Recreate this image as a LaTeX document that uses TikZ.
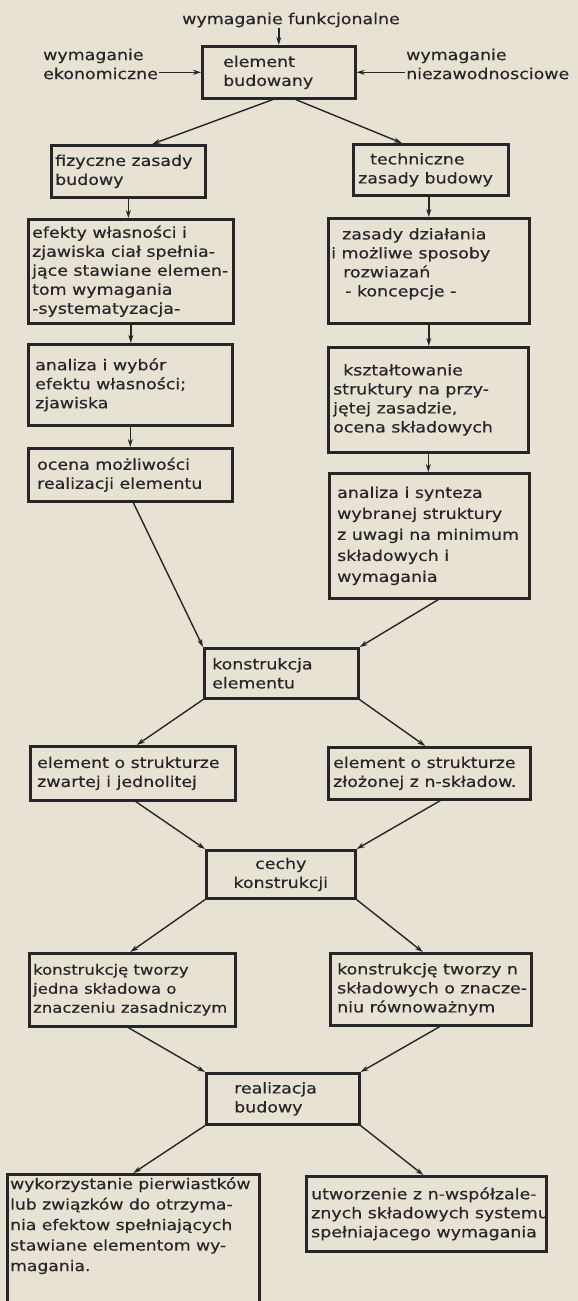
\documentclass[tikz,border=0pt]{standalone}
\usepackage{fontspec}
\setmainfont{DejaVu Sans}[FakeStretch=1.16,FakeBold=0.4]
\usetikzlibrary{arrows.meta,calc}
\definecolor{paper}{RGB}{231,226,212}
\definecolor{ink}{RGB}{38,38,40}
\tikzset{
  bx/.style={draw=ink, line width=2.6pt, anchor=north west, inner sep=0pt},
  tx/.style={anchor=west, align=left, inner sep=0pt, text=ink, font=\fontsize{15}{19}\selectfont},
  lbl/.style={align=left, inner sep=1pt, text=ink, font=\fontsize{15}{19}\selectfont},
  arr/.style={draw=ink, line width=1.4pt, -{Stealth[length=8pt,width=5pt]}},
}
\begin{document}
\begin{tikzpicture}[x=1pt,y=-1pt]
\fill[paper] (0,0) rectangle (578,1301);
\useasboundingbox (0,0) rectangle (578,1301);

% top inputs
\node[lbl] (funk) at (291,20) {wymaganie funkcjonalne};
\node[lbl, anchor=west] (ekon) at (42,64) {wymaganie\\ekonomiczne};
\node[lbl, anchor=west] (niez) at (405,64) {wymaganie\\niezawodnosciowe};

% boxes
\node[bx, minimum width=153pt, minimum height=52pt] (elem) at (201,45) {};
\node[bx, minimum width=154pt, minimum height=52pt] (fiz) at (50,144) {};
\node[bx, minimum width=205pt, minimum height=104pt] (efekty) at (27,218) {};
\node[bx, minimum width=204pt, minimum height=81pt] (analiza) at (27,343) {};
\node[bx, minimum width=204pt, minimum height=53pt] (ocena) at (27,447) {};
\node[bx, minimum width=155pt, minimum height=51pt] (tech) at (352,143) {};
\node[bx, minimum width=201pt, minimum height=105pt] (zasady) at (327,217) {};
\node[bx, minimum width=200pt, minimum height=105pt] (kszt) at (327,346) {};
\node[bx, minimum width=200pt, minimum height=125pt] (synt) at (328,472) {};
\node[bx, minimum width=154pt, minimum height=50pt] (konstr) at (203,647) {};
\node[bx, minimum width=205pt, minimum height=54pt] (zwarta) at (29,745) {};
\node[bx, minimum width=202pt, minimum height=52pt] (zlozona) at (327,746) {};
\node[bx, minimum width=149pt, minimum height=48pt] (cechy) at (205,849) {};
\node[bx, minimum width=206pt, minimum height=73pt] (jedna) at (28,952) {};
\node[bx, minimum width=201pt, minimum height=72pt] (nskl) at (329,952) {};
\node[bx, minimum width=153pt, minimum height=51pt] (real) at (205,1072) {};
\node[bx, minimum width=252pt, minimum height=145pt] (wykorz) at (6,1173) {};
\node[bx, minimum width=240pt, minimum height=75pt] (utw) at (305,1175) {};

% texts
\node[tx] (elem-t) at ([xshift=22pt]elem.west) {element\\budowany};
\node[tx] (fiz-t) at ([xshift=5pt]fiz.west) {fizyczne zasady\\budowy};
\node[tx] (efekty-t) at ([xshift=5pt]efekty.west)
  {efekty własności i\\zjawiska ciał spełnia-\\jące stawiane elemen-\\tom wymagania\\-systematyzacja-};
\node[tx] (analiza-t) at ([xshift=8pt]analiza.west) {analiza i wybór\\efektu własności;\\zjawiska};
\node[tx] (ocena-t) at ([xshift=10pt]ocena.west) {ocena możliwości\\realizacji elementu};
\node[tx] (tech-t) at ([xshift=6pt]tech.west) {\hspace*{12pt}techniczne\\zasady budowy};
\node[tx] (zasady-t) at ([xshift=4pt,yshift=7pt]zasady.west)
  {\hspace*{11pt}zasady działania\\i możliwe sposoby\\\hspace*{12pt}rozwiazań\\\hspace*{14pt}- koncepcje -};
\node[tx] (kszt-t) at ([xshift=6pt]kszt.west)
  {\hspace*{10pt}kształtowanie\\struktury na przy-\\jętej zasadzie,\\ocena składowych};
\node[tx, font=\fontsize{15}{21}\selectfont] (synt-t) at ([xshift=9pt]synt.west)
  {analiza i synteza\\wybranej struktury\\z uwagi na minimum\\składowych i\\wymagania};
\node[tx] (konstr-t) at ([xshift=9pt]konstr.west) {konstrukcja\\elementu};
\node[tx] (zwarta-t) at ([xshift=8pt]zwarta.west) {element o strukturze\\zwartej i jednolitej};
\node[tx] (zlozona-t) at ([xshift=6pt]zlozona.west) {element o strukturze\\złożonej z n-składow.};
\node[tx, anchor=center, align=center] (cechy-t) at (cechy.center) {cechy\\konstrukcji};
\node[tx, font=\fontsize{14.2}{19}\selectfont] (jedna-t) at ([xshift=5pt]jedna.west)
  {konstrukcję tworzy\\jedna składowa o\\znaczeniu zasadniczym};
\node[tx] (nskl-t) at ([xshift=8pt]nskl.west)
  {konstrukcję tworzy n\\składowych o znacze-\\niu równoważnym};
\node[tx] (real-t) at ([xshift=29pt]real.west) {realizacja\\budowy};
\node[tx, anchor=north west, font=\fontsize{14.8}{20.5}\selectfont] (wykorz-t) at ([xshift=4pt,yshift=-4pt]wykorz.north west)
  {wykorzystanie pierwiastków\\lub związków do otrzyma-\\nia efektow spełniających\\stawiane elementom wy-\\magania.};
\node[tx] (utw-t) at ([xshift=6pt]utw.west)
  {utworzenie z n-współzale-\\znych składowych systemu\\spełniajacego wymagania};

% connectors
\draw[arr] (elem.north |- funk.south) -- (elem.north);
\draw[arr] (ekon.east |- elem.west) -- (elem.west);
\draw[arr] (niez.west |- elem.east) -- (elem.east);
\draw[arr] ([xshift=-6pt]elem.south) -- ([xshift=24pt]fiz.north);
\draw[arr] ([xshift=17pt]elem.south) -- ([xshift=-29pt]tech.north);

\draw[arr] (fiz.south) -- (fiz.south |- efekty.north);
\draw[arr] (efekty.south) -- (efekty.south |- analiza.north);
\draw[arr] (analiza.south) -- (analiza.south |- ocena.north);
\draw[arr] (zasady.north |- tech.south) -- (zasady.north);
\draw[arr] (zasady.south) -- (zasady.south |- kszt.north);
\draw[arr] (kszt.south) -- (kszt.south |- synt.north);

\draw[arr] ([xshift=3pt]ocena.south) -- (konstr.north west);
\draw[arr] ([xshift=9pt]synt.south) -- (konstr.north east);
\draw[arr] (konstr.south west) -- ([xshift=4pt]zwarta.north);
\draw[arr] (konstr.south east) -- ([xshift=-4pt]zlozona.north);
\draw[arr] ([xshift=3pt]zwarta.south) -- (cechy.north west);
\draw[arr] ([xshift=11pt]zlozona.south) -- (cechy.north east);
\draw[arr] (cechy.south west) -- ([xshift=-2pt]jedna.north);
\draw[arr] (cechy.south east) -- ([xshift=-8pt]nskl.north);
\draw[arr] ([xshift=-4pt]jedna.south) -- (real.north west);
\draw[arr] ([xshift=9pt]nskl.south) -- (real.north east);
\draw[arr] (real.south west) -- (wykorz.north);
\draw[arr] (real.south east) -- ([xshift=-3pt]utw.north);
\end{tikzpicture}
\end{document}
